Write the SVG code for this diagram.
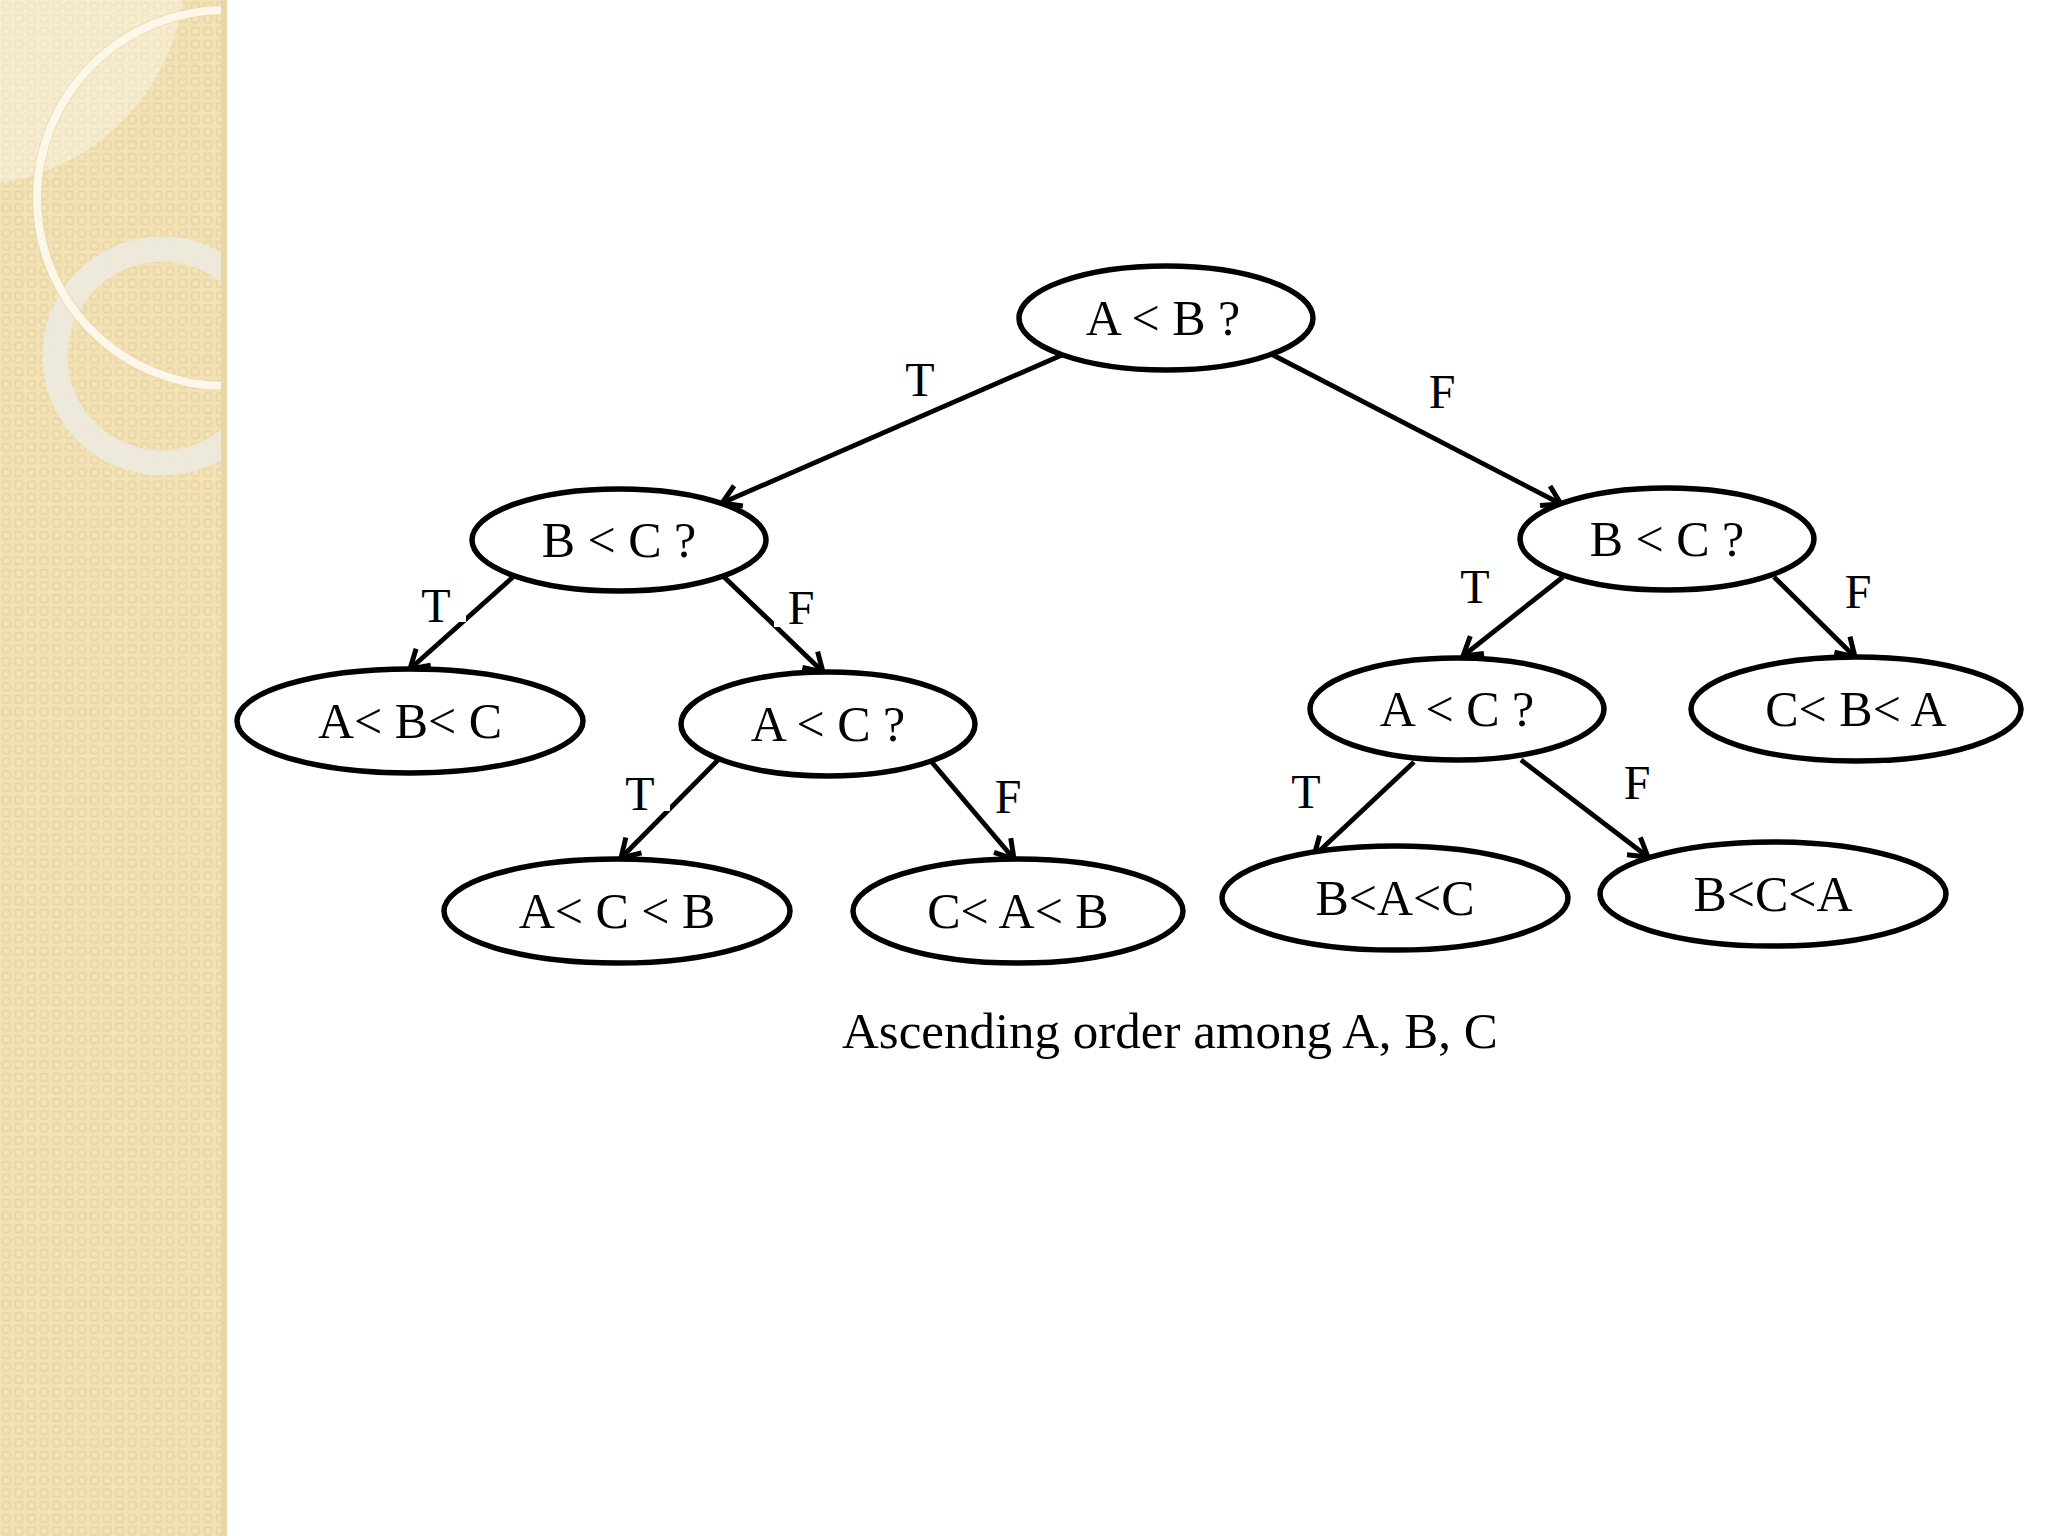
<svg xmlns="http://www.w3.org/2000/svg" width="2048" height="1536" viewBox="0 0 2048 1536">
<style>
.node ellipse{fill:#fff;stroke:#000;stroke-width:5.5}
.node text,.lbl,.cap{font-family:"Liberation Serif","Times New Roman",serif;fill:#000}
.node text{font-size:50px;text-anchor:middle}
.lbl{font-size:48px;text-anchor:middle}
.cap{font-size:51px}
.edge{fill:none;stroke:#000;stroke-width:4.8;marker-end:url(#arr)}
.bg{fill:#fff}
</style>
<defs>
<marker id="arr" viewBox="-25 -15 30 30" refX="0" refY="0" markerWidth="30" markerHeight="30" orient="auto" markerUnits="userSpaceOnUse">
<path d="M-18,-11 L0,0 L-18,11" fill="none" stroke="#000" stroke-width="5"/>
</marker>
<pattern id="pt" width="12.6" height="12.6" patternUnits="userSpaceOnUse">
<rect width="12.6" height="12.6" fill="#F2E2B6"/>
<rect x="2.5" y="2.5" width="7.6" height="7.6" rx="1.5" fill="none" stroke="#E9D5A2" stroke-width="1.6"/>
<rect x="5.6" y="5.6" width="1.4" height="1.4" fill="#F8EDCF"/>
</pattern>
<clipPath id="pc"><rect x="0" y="0" width="227" height="1536"/></clipPath>
</defs>
<rect x="0" y="0" width="2048" height="1536" fill="#fff"/>
<g id="panel">
<rect x="0" y="0" width="227" height="1536" fill="url(#pt)"/>
<g clip-path="url(#pc)">
<path d="M0,0 L0,183 A216,216 0 0 0 183,0 Z" fill="#fff" opacity="0.35"/>
<circle cx="162" cy="356" r="107" fill="none" stroke="#EDE9DE" stroke-width="25" opacity="0.92"/>
<circle cx="225" cy="198" r="188" fill="none" stroke="#E2D3A8" stroke-width="10" opacity="0.5"/>
<circle cx="225" cy="198" r="188" fill="none" stroke="#FCF7E8" stroke-width="8"/>
</g>
<rect x="221" y="0" width="6" height="1536" fill="#E8D6A6"/>
</g>
<g id="connectors">
<line class="edge" x1="1062" y1="355" x2="722" y2="503"/>
<line class="edge" x1="1271" y1="354" x2="1561" y2="504"/>
<line class="edge" x1="513" y1="577" x2="410" y2="669"/>
<line class="edge" x1="722" y1="575" x2="823" y2="672"/>
<line class="edge" x1="718" y1="760" x2="621" y2="858"/>
<line class="edge" x1="930" y1="760" x2="1014" y2="859"/>
<line class="edge" x1="1563" y1="577" x2="1463" y2="656"/>
<line class="edge" x1="1774" y1="577" x2="1855" y2="657"/>
<line class="edge" x1="1414" y1="762" x2="1314" y2="856"/>
<line class="edge" x1="1521" y1="760" x2="1648" y2="857"/>
</g>
<g id="labels">
<text class="lbl" x="920" y="396">T</text>
<text class="lbl" x="1442" y="408">F</text>
<rect class="bg" x="418" y="586" width="48" height="36"/>
<text class="lbl" x="436" y="622">T</text>
<rect class="bg" x="774" y="588" width="44" height="39"/>
<text class="lbl" x="801" y="624">F</text>
<rect class="bg" x="622" y="774" width="48" height="37"/>
<text class="lbl" x="640" y="810">T</text>
<text class="lbl" x="1008" y="813">F</text>
<text class="lbl" x="1475" y="603">T</text>
<text class="lbl" x="1858" y="608">F</text>
<text class="lbl" x="1306" y="808">T</text>
<text class="lbl" x="1637" y="799">F</text>
</g>
<g id="n1" class="node"><ellipse cx="1166" cy="318" rx="147" ry="52"/><text x="1163" y="335">A &lt; B ?</text></g>
<g id="n2" class="node"><ellipse cx="619" cy="540" rx="147" ry="51"/><text x="619" y="557">B &lt; C ?</text></g>
<g id="n3" class="node"><ellipse cx="1667" cy="539" rx="147" ry="51"/><text x="1667" y="556">B &lt; C ?</text></g>
<g id="n4" class="node"><ellipse cx="410" cy="721" rx="173" ry="52"/><text x="410" y="738">A&lt; B&lt; C</text></g>
<g id="n5" class="node"><ellipse cx="828" cy="724" rx="147" ry="52"/><text x="828" y="741">A &lt; C ?</text></g>
<g id="n6" class="node"><ellipse cx="1457" cy="709" rx="147" ry="51"/><text x="1457" y="726">A &lt; C ?</text></g>
<g id="n7" class="node"><ellipse cx="1856" cy="709" rx="165" ry="52"/><text x="1856" y="726">C&lt; B&lt; A</text></g>
<g id="n8" class="node"><ellipse cx="617" cy="911" rx="173" ry="52"/><text x="617" y="928">A&lt; C &lt; B</text></g>
<g id="n9" class="node"><ellipse cx="1018" cy="911" rx="165" ry="52"/><text x="1018" y="928">C&lt; A&lt; B</text></g>
<g id="n10" class="node"><ellipse cx="1395" cy="898" rx="173" ry="52"/><text x="1395" y="915">B&lt;A&lt;C</text></g>
<g id="n11" class="node"><ellipse cx="1773" cy="894" rx="173" ry="52"/><text x="1773" y="911">B&lt;C&lt;A</text></g>
<text id="caption" class="cap" x="842" y="1048">Ascending order among A, B, C</text>
</svg>
